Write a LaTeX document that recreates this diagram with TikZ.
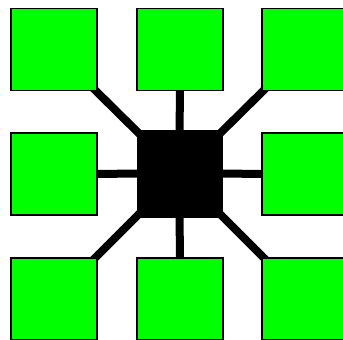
\documentclass[tikz,border=0pt]{standalone}
\usetikzlibrary{backgrounds}
\definecolor{colLeaf}{HTML}{00FF00}
\definecolor{colHub}{HTML}{000000}

\begin{document}
\begin{tikzpicture}[
  x=1pt, y=-1pt,
  leaf/.style={
    draw=black, fill=colLeaf, line width=1.5pt,
    minimum width=86pt, minimum height=82pt, inner sep=0pt
  },
  hub/.style={
    draw=colHub, fill=colHub,
    minimum width=85pt, minimum height=87pt, inner sep=0pt
  },
  link/.style={line width=8pt, color=colHub},
]

%% frame of the picture (the outer squares run off the right and bottom)
\useasboundingbox (0,0) rectangle (343,340);
\clip (0,0) rectangle (343,340);

%% ============================================================
%% Centre
%% ============================================================
\node[hub] (hub) at (179.5,173.5) {};

%% ============================================================
%% Ring of eight squares
%% ============================================================
\node[leaf] (tl) at (54,49.5)  {};
\node[leaf] (tc) at (180,49.5) {};
\node[leaf] (tr) at (305,49.5) {};
\node[leaf] (ml) at (54,174)   {};
\node[leaf] (mr) at (305,174)  {};
\node[leaf] (bl) at (54,299)   {};
\node[leaf] (bc) at (180,299)  {};
\node[leaf] (br) at (305,299)  {};

%% ============================================================
%% Spokes
%% ============================================================
\begin{scope}[on background layer]
  \foreach \dst in {tl, tc, tr, ml, mr, bl, bc, br}
    \draw[link] (hub.center) -- (\dst.center);
\end{scope}

\end{tikzpicture}
\end{document}
